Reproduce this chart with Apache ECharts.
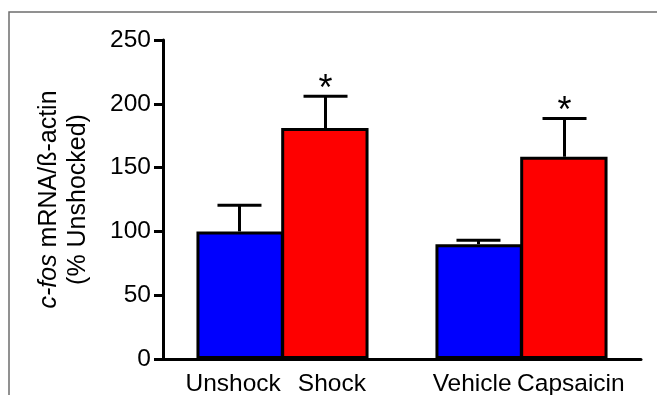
<!DOCTYPE html>
<html>
<head>
<meta charset="utf-8">
<script src="https://cdn.jsdelivr.net/npm/echarts@6/dist/echarts.min.js"></script>
<style>
  html, body { margin: 0; padding: 0; background: #fff; }
  #chart { width: 657px; height: 395px; }
</style>
</head>
<body>
<div id="chart"></div>
<script>
// groups on the x axis, each with a blue and a red bar
const groups = ['Unshock / Shock', 'Vehicle / Capsaicin']
const blueNames = ['Unshock', 'Vehicle']
const redNames = ['Shock', 'Capsaicin']
const blueValues = [100, 90]
const blueErrors = [20.5, 3]
const redValues = [181, 158.5]
const redErrors = [25, 30]
const redStars = [true, true]
const yTicks = { min: 0, max: 250, step: 50 }

const gapRatio = 0.28
const fontFam = '"Liberation Sans", Arial, sans-serif'

function errorSeries (values, errors, stars, side) {
  return {
    type: 'custom',
    z: 5,
    data: values.map((v, i) => [i, v, errors[i], stars ? (stars[i] ? 1 : 0) : 0]),
    encode: { x: 0, y: 1 },
    renderItem (params, api) {
      const band = api.size([1, 0])[0]
      const barW = band * (1 - gapRatio) / 2
      const base = api.coord([api.value(0), api.value(1)])
      const top = api.coord([api.value(0), api.value(1) + api.value(2)])
      const x = base[0] + side * barW / 2
      const capHalf = 22
      const style = { stroke: '#000', lineWidth: 3 }
      const children = [
        { type: 'line', shape: { x1: x, y1: base[1], x2: x, y2: top[1] }, style },
        { type: 'line', shape: { x1: x - capHalf, y1: top[1], x2: x + capHalf, y2: top[1] }, style }
      ]
      if (api.value(3)) {
        children.push({
          type: 'text',
          style: {
            text: '*', x: x, y: top[1] + 12, align: 'center', verticalAlign: 'bottom',
            font: '36px ' + fontFam, fill: '#000'
          }
        })
      }
      return { type: 'group', children }
    }
  }
}

let myChart = echarts.init(document.getElementById('chart'))
myChart.setOption({
  animation: false,
  backgroundColor: '#fff',
  graphic: [
    {
      type: 'rect',
      shape: { x: 9, y: 12, width: 700, height: 420 },
      style: { fill: 'none', stroke: '#6e6e6e', lineWidth: 1.5 },
      silent: true
    }
  ],
  grid: { left: 163, right: 16, top: 40, bottom: 36 },
  xAxis: {
    type: 'category',
    data: groups,
    axisLine: { lineStyle: { color: '#000', width: 3 } },
    axisTick: { alignWithLabel: true, length: 8, lineStyle: { color: '#000', width: 3 } },
    axisLabel: { show: false }
  },
  yAxis: {
    type: 'value',
    min: yTicks.min,
    max: yTicks.max,
    interval: yTicks.step,
    splitLine: { show: false },
    axisLine: { show: true, lineStyle: { color: '#000', width: 3 } },
    axisTick: { show: true, length: 9, lineStyle: { color: '#000', width: 3 } },
    axisLabel: { color: '#000', fontSize: 24.5, fontFamily: fontFam, margin: 12 },
    name: '{i|c-fos} mRNA/ß-actin\n(% Unshocked)',
    nameLocation: 'middle',
    nameRotate: 90,
    nameGap: 70,
    nameTextStyle: {
      color: '#000',
      fontSize: 25,
      fontFamily: fontFam,
      lineHeight: 29,
      rich: {
        i: { fontStyle: 'italic', fontSize: 25, fontFamily: fontFam, color: '#000' }
      }
    }
  },
  series: [
    {
      type: 'bar',
      data: blueValues,
      barGap: '-3%',
      barCategoryGap: (gapRatio * 100) + '%',
      itemStyle: { color: '#0000fe', borderColor: '#000', borderWidth: 3 },
      label: {
        show: true,
        position: 'bottom',
        distance: 13,
        offset: [-7, 0],
        color: '#000',
        fontSize: 24.5,
        fontFamily: fontFam,
        formatter: (p) => blueNames[p.dataIndex]
      }
    },
    {
      type: 'bar',
      data: redValues,
      barGap: '-3%',
      barCategoryGap: (gapRatio * 100) + '%',
      itemStyle: { color: '#fe0000', borderColor: '#000', borderWidth: 3 },
      label: {
        show: true,
        position: 'bottom',
        distance: 13,
        offset: [7, 0],
        color: '#000',
        fontSize: 24.5,
        fontFamily: fontFam,
        formatter: (p) => redNames[p.dataIndex]
      }
    },
    errorSeries(blueValues, blueErrors, null, -1),
    errorSeries(redValues, redErrors, redStars, 1)
  ]
})
</script>
</body>
</html>
